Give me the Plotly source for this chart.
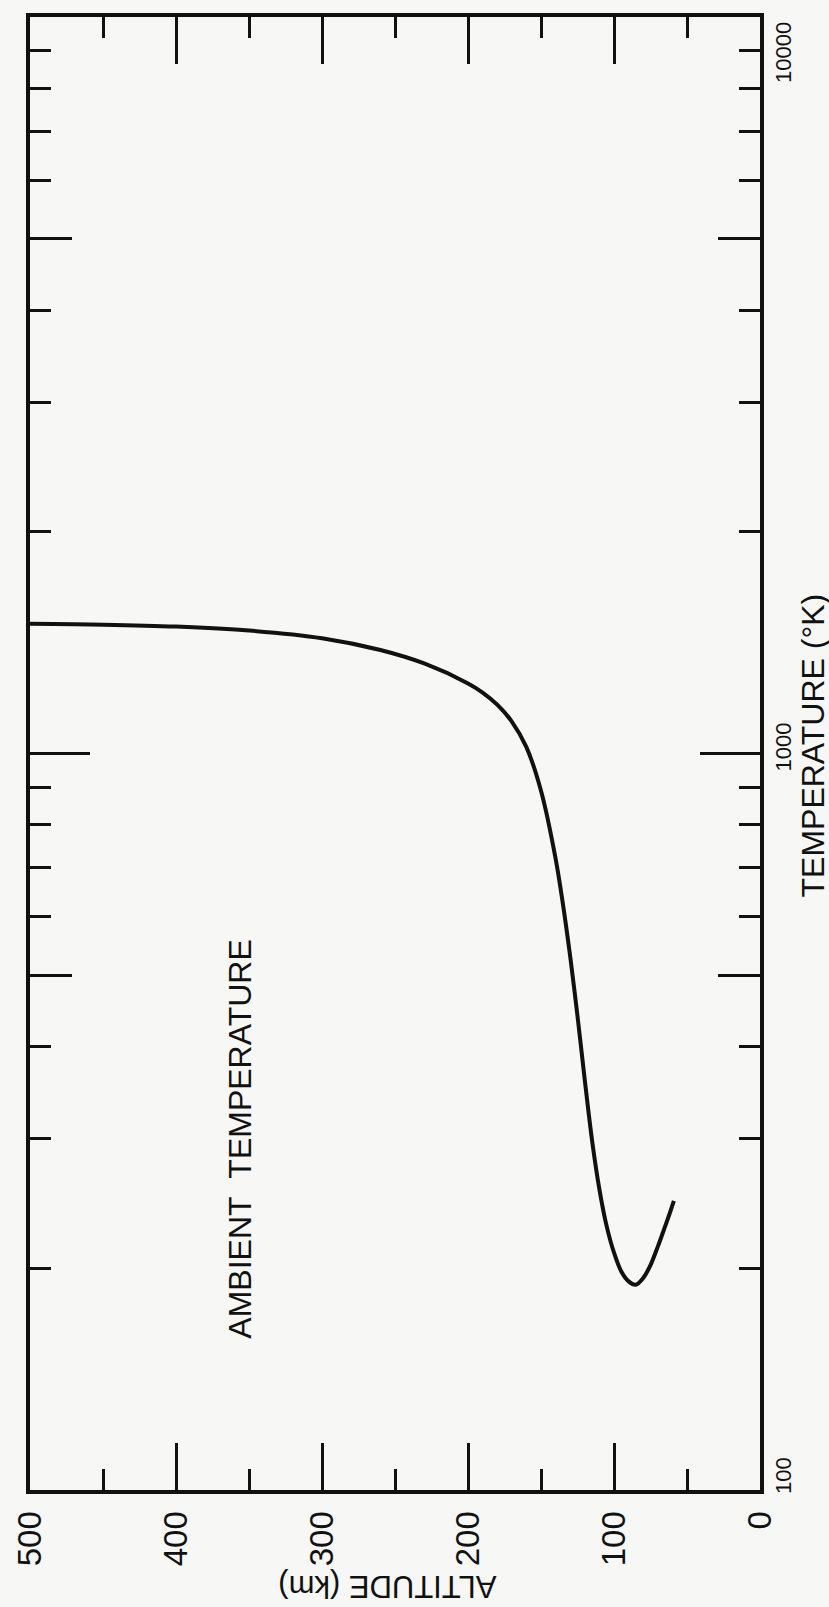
import numpy as np
import plotly.graph_objects as go

# ---- data ----
ALTITUDE_KM = [59, 62, 65, 70, 75, 80, 85, 90, 95, 100, 105, 110, 115, 120, 125, 130, 135, 140,
               150, 160, 170, 180, 190, 200, 230, 260, 300, 350, 400, 450, 500]
TEMPERATURE_K = [247, 237, 228, 214, 202, 194, 190, 192, 198, 210, 228, 256, 298, 360, 440, 530, 625, 720,
                 890, 1020, 1105, 1165, 1210, 1245, 1325, 1382, 1434, 1469, 1487, 1496, 1500]

ALT_MAJOR = [0, 100, 200, 300, 400, 500]
ALT_MAJOR_TEXT = ["0", "100", "200", "300", "400", "500"]
ALT_MINOR = [50, 150, 250, 350, 450]

TEMP_MID = [500, 5000]
TEMP_LONG = [1000]
TEMP_MINOR = [200, 300, 400, 600, 700, 800, 900, 2000, 3000, 4000, 6000, 7000, 8000, 9000]
TEMP_LABELS = [100, 1000, 10000]
TEMP_LABEL_TEXT = ["100", "1000", "10000"]
TEMP_LABEL_SHIFT = [14, 6, -36]

INK = "#111111"
PAPER = "#f7f7f5"
FONT = "Liberation Sans"

fig = go.Figure()
fig.add_trace(go.Scatter(
    x=ALTITUDE_KM, y=TEMPERATURE_K, mode="lines",
    line=dict(color=INK, width=4, shape="spline", smoothing=0.9),
    showlegend=False, hoverinfo="skip"))
# helper trace so the overlay axis is created
fig.add_trace(go.Scatter(x=[None], y=[None], yaxis="y2", showlegend=False, hoverinfo="skip"))

tick_common = dict(ticks="inside", tickwidth=2.5, tickcolor=INK, showgrid=False, zeroline=False)

fig.update_layout(
    width=829, height=1607,
    margin=dict(l=30, r=69, t=17, b=117),
    paper_bgcolor=PAPER, plot_bgcolor=PAPER,
    xaxis=dict(range=[500, 0], tickmode="array", tickvals=ALT_MAJOR, ticktext=ALT_MAJOR_TEXT,
               ticklen=47, showline=True, linewidth=4, linecolor=INK, mirror="ticks",
               tickangle=-90, tickfont=dict(family=FONT, size=33, color=INK),
               ticklabelstandoff=4,
               minor=dict(tickmode="array", tickvals=ALT_MINOR, ticks="inside", ticklen=21,
                          tickwidth=2.5, tickcolor=INK, showgrid=False),
               **tick_common),
    yaxis=dict(type="log", range=[2, 4], side="right", tickmode="array", tickvals=TEMP_MID,
               ticklen=42, showticklabels=False, showline=True, linewidth=4, linecolor=INK,
               mirror="ticks",
               minor=dict(tickmode="array", tickvals=TEMP_MINOR, ticks="inside", ticklen=21,
                          tickwidth=2.5, tickcolor=INK, showgrid=False),
               **tick_common),
    yaxis2=dict(type="log", range=[2, 4], overlaying="y", anchor="x", side="right",
                tickmode="array", tickvals=TEMP_LONG, ticklen=60, showticklabels=False,
                showline=False, mirror="ticks", **tick_common),
)

annotations = []
for v, t, s in zip(TEMP_LABELS, TEMP_LABEL_TEXT, TEMP_LABEL_SHIFT):
    annotations.append(dict(x=1, xref="paper", y=float(np.log10(v)), yref="y", text=t,
                            textangle=-90, showarrow=False, xanchor="center", yanchor="middle",
                            xshift=23, yshift=s, font=dict(family=FONT, size=22, color=INK)))
annotations.append(dict(x=1, xref="paper", y=0.5, yref="paper", text="TEMPERATURE (°K)",
                        textangle=-90, showarrow=False, xanchor="center", yanchor="middle",
                        xshift=52, yshift=8, font=dict(family=FONT, size=32, color=INK)))
annotations.append(dict(x=0.49, xref="paper", y=0, yref="paper", text="ALTITUDE (km)",
                        textangle=180, showarrow=False, xanchor="center", yanchor="middle",
                        yshift=-97, font=dict(family=FONT, size=31, color=INK)))
annotations.append(dict(x=0.288, xref="paper", y=0.238, yref="paper",
                        text="AMBIENT&nbsp;&nbsp;TEMPERATURE",
                        textangle=-90, showarrow=False, xanchor="center", yanchor="middle",
                        font=dict(family=FONT, size=32, color=INK)))
fig.update_layout(annotations=annotations)

fig.write_html("out.html")
